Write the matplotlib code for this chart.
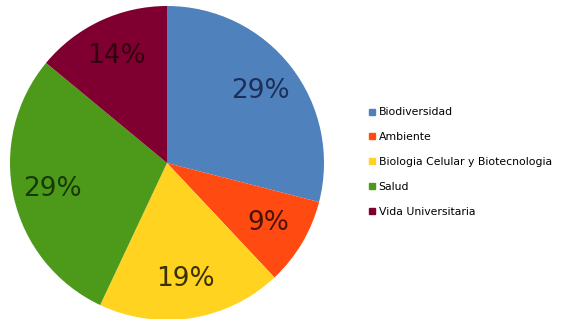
import matplotlib
matplotlib.use("Agg")
import matplotlib.pyplot as plt
from matplotlib.lines import Line2D

categories = ["Biodiversidad", "Ambiente", "Biologia Celular y Biotecnologia", "Salud", "Vida Universitaria"]
values = [29, 9, 19, 29, 14]
colors = ["#4F81BD", "#FF4A12", "#FFD320", "#4D9A1B", "#7F0030"]
label_colors = ["#1C2F5A", "#4A1405", "#3A3000", "#173A08", "#33000F"]

fig = plt.figure(figsize=(5.62, 3.19), dpi=100)
ax = fig.add_axes([10/562, -1/319, 314/562, 314/319])
wedges, texts, autotexts = ax.pie(values, colors=colors, startangle=90, counterclock=False,
                                  autopct=lambda p: f"{p:.0f}%", pctdistance=0.75,
                                  radius=1, textprops=dict(fontsize=19))
for t, c in zip(autotexts, label_colors):
    t.set_color(c)
ax.set_xlim(-1, 1)
ax.set_ylim(-1, 1)
ax.set_aspect("equal")

handles = [Line2D([0], [0], marker="s", linestyle="none", markersize=5,
                  markerfacecolor=c, markeredgecolor=c) for c in colors]
fig.legend(handles, categories, loc="upper left", bbox_to_anchor=(364/562, 1 - 103/319),
           frameon=False, fontsize=7.8, handlelength=0.6, handletextpad=0.35,
           labelspacing=1.38, borderaxespad=0)

fig.savefig("out.png", dpi=100)
